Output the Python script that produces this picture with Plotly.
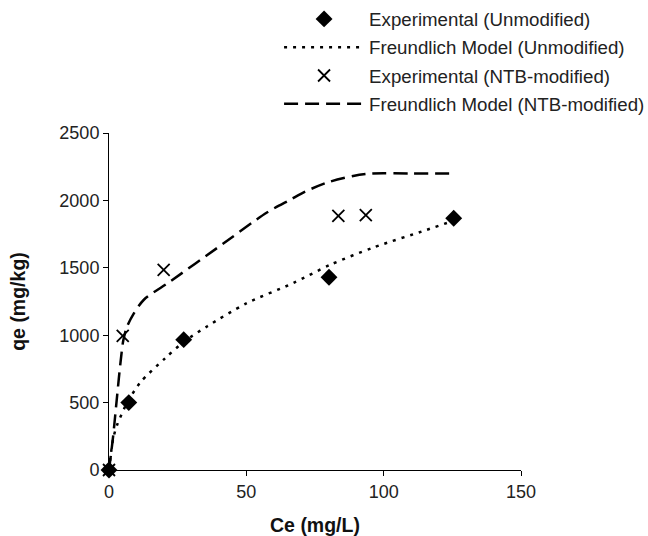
import plotly.graph_objects as go

# Experimental isotherm data
ce_unmod = [0, 7.2, 27.2, 80.1, 125.5]
qe_unmod = [0, 500, 967, 1430, 1868]

ce_ntb = [0, 5.0, 19.9, 83.5, 93.5]
qe_ntb = [0, 995, 1485, 1885, 1890]

# Freundlich model curves
ce_fr_unmod = [0, 1.5, 3, 5.4, 7.2, 11.4, 20.5, 27.2, 35.7, 50, 67.1, 80.5, 96.2, 115.6, 125.5]
qe_fr_unmod = [0, 230, 337, 450, 520, 650, 830, 950, 1065, 1236, 1387, 1522, 1650, 1781, 1850]

ce_fr_ntb = [0, 1.5, 3, 4.2, 5.2, 6.5, 9, 12.7, 22.3, 39.3, 57.5, 65.9, 71.4, 79.8, 88.9, 95.6, 110, 125.2]
qe_fr_ntb = [0, 250, 560, 800, 960, 1060, 1160, 1263, 1399, 1646, 1910, 2004, 2065, 2135, 2181, 2200, 2200, 2200]

FONT = "Arial, Liberation Sans, sans-serif"

fig = go.Figure()

fig.add_trace(go.Scatter(
    x=ce_unmod, y=qe_unmod, mode="markers", name="Experimental (Unmodified)",
    legendgroup="a", cliponaxis=False,
    marker=dict(symbol="diamond", size=13, color="black"),
))
fig.add_trace(go.Scatter(
    x=ce_fr_unmod, y=qe_fr_unmod, mode="lines", name="Freundlich Model (Unmodified)",
    legendgroup="b",
    line=dict(color="black", width=2.5, dash="3px,6px", shape="spline", smoothing=0.8),
))
fig.add_trace(go.Scatter(
    x=ce_ntb, y=qe_ntb, mode="markers", name="Experimental (NTB-modified)",
    legendgroup="c", cliponaxis=False,
    marker=dict(symbol="x-thin-open", size=12, color="black",
                line=dict(color="black", width=1.8)),
))
fig.add_trace(go.Scatter(
    x=ce_fr_ntb, y=qe_fr_ntb, mode="lines", name="Freundlich Model (NTB-modified)",
    legendgroup="d",
    line=dict(color="black", width=2.5, dash="14px,7px", shape="spline", smoothing=0.8),
))

fig.update_layout(
    width=648, height=536,
    margin=dict(l=108.5, r=126.5, t=133, b=65.5, autoexpand=False),
    paper_bgcolor="white", plot_bgcolor="white",
    font=dict(family=FONT, size=18, color="#222"),
    legend=dict(
        x=0.4128, y=1.394, xanchor="left", yanchor="top",
        traceorder="grouped", tracegroupgap=1,
        font=dict(family=FONT, size=18.7, color="#222"),
        bgcolor="rgba(0,0,0,0)", itemwidth=80,
    ),
    xaxis=dict(
        range=[0, 150], tickvals=[0, 50, 100, 150],
        showgrid=False, zeroline=False,
        showline=True, linecolor="black", linewidth=1,
        ticks="outside", ticklen=5, tickcolor="black",
        tickfont=dict(family=FONT, size=18, color="#222"),
        title=dict(text="<b>Ce (mg/L)</b>", font=dict(family=FONT, size=19.5, color="#111"),
                   standoff=17),
    ),
    yaxis=dict(
        range=[0, 2500], tickvals=[0, 500, 1000, 1500, 2000, 2500],
        showgrid=False, zeroline=False,
        showline=True, linecolor="black", linewidth=1,
        ticks="outside", ticklen=5, tickcolor="black",
        tickfont=dict(family=FONT, size=18, color="#222"),
        title=dict(text="<b>qe (mg/kg)</b>", font=dict(family=FONT, size=19.5, color="#111"),
                   standoff=28),
    ),
)

fig.write_html("out.html")
